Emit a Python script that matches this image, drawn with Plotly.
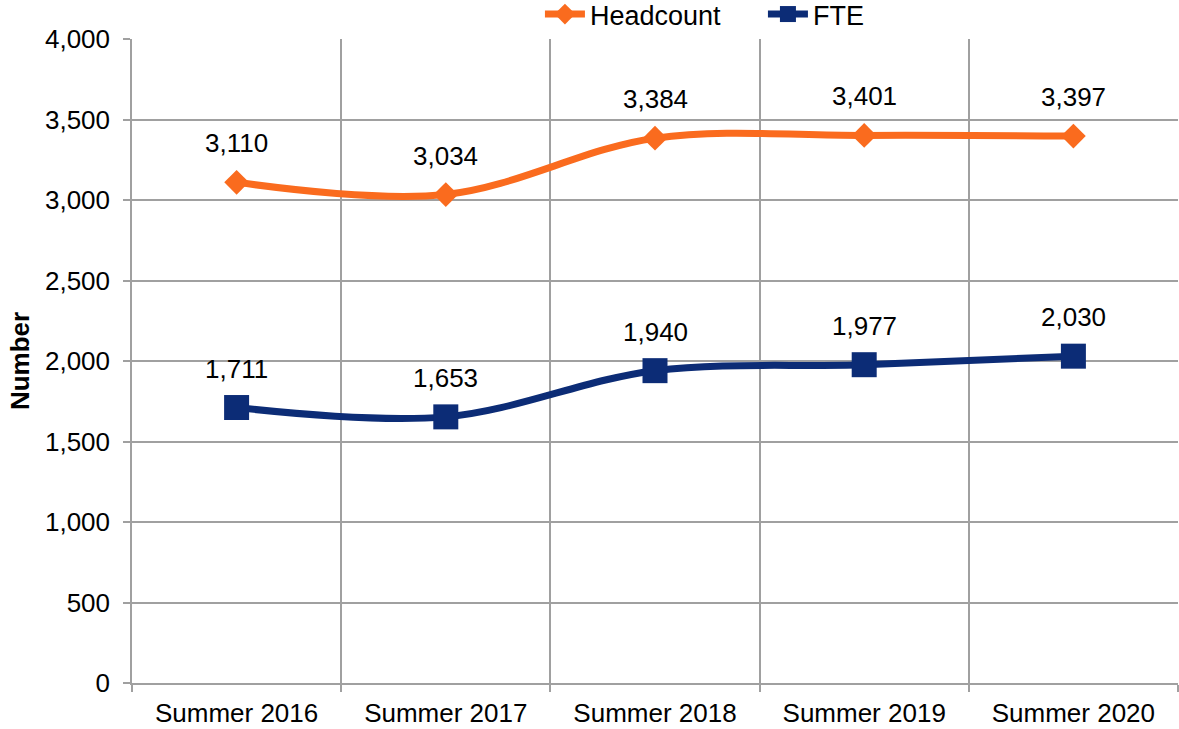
import plotly.graph_objects as go

categories = ["Summer 2016", "Summer 2017", "Summer 2018", "Summer 2019", "Summer 2020"]
headcount = [3110, 3034, 3384, 3401, 3397]
fte = [1711, 1653, 1940, 1977, 2030]

ORANGE = "#FA6B1E"
NAVY = "#0C2C76"
FONT = "Liberation Sans, Arial, sans-serif"

fig = go.Figure()
fig.add_trace(go.Scatter(
    x=categories, y=headcount, name="Headcount", mode="lines+markers",
    line=dict(color=ORANGE, width=7, shape="spline", smoothing=1.0),
    marker=dict(symbol="diamond", size=19, color=ORANGE),
))
fig.add_trace(go.Scatter(
    x=categories, y=fte, name="FTE", mode="lines+markers",
    line=dict(color=NAVY, width=7, shape="spline", smoothing=1.0),
    marker=dict(symbol="square", size=25, color=NAVY),
))

annotations = []
for series in (headcount, fte):
    for c, v in zip(categories, series):
        annotations.append(dict(
            x=c, y=v, text=f"{v:,}", showarrow=False, yshift=39,
            font=dict(family=FONT, size=26, color="#000000"),
        ))

fig.update_layout(
    width=1179, height=729,
    margin=dict(l=132, r=1, t=39, b=46, autoexpand=False),
    paper_bgcolor="white", plot_bgcolor="white",
    font=dict(family=FONT, size=26, color="#000000"),
    showlegend=True,
    legend=dict(orientation="h", x=0.39, xanchor="left", y=1.0, yanchor="bottom",
                font=dict(family=FONT, size=27), itemwidth=40, entrywidth=168,
                bgcolor="rgba(0,0,0,0)"),
    annotations=annotations,
    xaxis=dict(
        type="category", tickson="boundaries", showgrid=True, gridcolor="#A0A0A0", gridwidth=1.5,
        showline=True, linecolor="#A0A0A0", linewidth=1.5, automargin=False,
        ticks="outside", ticklen=7, tickcolor="#A0A0A0", tickwidth=1.5, ticklabelstandoff=6,
        tickfont=dict(family=FONT, size=26), range=[-0.5, 4.5],
    ),
    yaxis=dict(
        range=[0, 4000], dtick=500, tickformat=",", showgrid=True, gridcolor="#A0A0A0", gridwidth=1.5,
        showline=True, linecolor="#A0A0A0", linewidth=1.5, zeroline=False, automargin=False,
        ticks="outside", ticklen=7, tickcolor="#A0A0A0", tickwidth=1.5, ticklabelstandoff=8,
        tickfont=dict(family=FONT, size=26),
        title=dict(text="<b>Number</b>", font=dict(family=FONT, size=26), standoff=8),
    ),
)

post = (
    "document.body.style.margin='0';"
    "document.body.style.overflow='hidden';"
    "Plotly.relayout('{plot_id}', {width: 1179, height: 729});"
)
fig.write_html("out.html", post_script=post, config={"displayModeBar": False})
